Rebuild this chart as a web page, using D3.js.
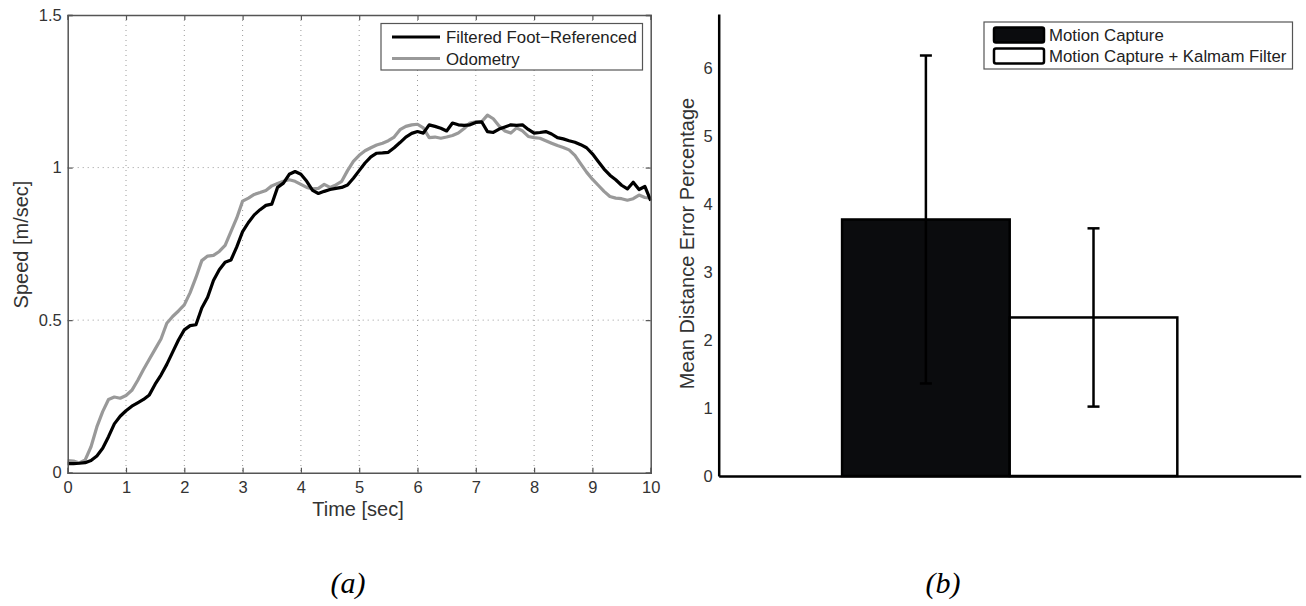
<!DOCTYPE html>
<html>
<head>
<meta charset="utf-8">
<script src="https://cdn.jsdelivr.net/npm/d3@7"></script>
<style>
  html, body { margin: 0; padding: 0; background: #fff; }
  svg text { font-family: "Liberation Sans", Arial, Helvetica, sans-serif; }
</style>
</head>
<body>
<svg id="chart" width="1306" height="606"></svg>
<script>
// ---------- Data: panel (a) ----------
const timeStep = 0.1;
const filteredFootReferenced = [
  0.030,0.030,0.031,0.033,0.040,0.055,0.080,0.118,0.160,0.185,
  0.203,0.218,0.229,0.240,0.255,0.290,0.320,0.355,0.395,0.435,
  0.468,0.482,0.485,0.540,0.575,0.630,0.665,0.690,0.697,0.740,
  0.790,0.820,0.845,0.862,0.876,0.880,0.935,0.949,0.978,0.987,
  0.978,0.955,0.925,0.915,0.922,0.928,0.932,0.935,0.943,0.965,
  0.990,1.015,1.035,1.047,1.048,1.050,1.065,1.082,1.100,1.112,
  1.118,1.113,1.140,1.135,1.129,1.120,1.146,1.140,1.138,1.140,
  1.148,1.150,1.118,1.115,1.126,1.133,1.140,1.138,1.140,1.125,
  1.113,1.115,1.118,1.110,1.098,1.094,1.088,1.083,1.075,1.065,
  1.045,1.020,0.995,0.975,0.960,0.942,0.930,0.952,0.928,0.938,
  0.892
];
const odometry = [
  0.040,0.038,0.032,0.042,0.085,0.150,0.200,0.240,0.248,0.244,
  0.253,0.270,0.302,0.338,0.372,0.405,0.438,0.490,0.512,0.530,
  0.550,0.590,0.640,0.695,0.710,0.712,0.725,0.745,0.790,0.835,
  0.890,0.900,0.912,0.918,0.925,0.940,0.948,0.955,0.960,0.955,
  0.945,0.935,0.930,0.932,0.945,0.935,0.943,0.955,0.990,1.020,
  1.040,1.055,1.065,1.074,1.080,1.088,1.100,1.124,1.135,1.140,
  1.142,1.130,1.098,1.100,1.096,1.100,1.105,1.113,1.128,1.146,
  1.150,1.150,1.172,1.160,1.136,1.120,1.113,1.130,1.120,1.102,
  1.098,1.096,1.088,1.080,1.072,1.066,1.058,1.040,1.012,0.985,
  0.962,0.942,0.922,0.905,0.900,0.898,0.893,0.898,0.910,0.902,
  0.900
];
const seriesNamesA = ["Filtered Foot\u2212Referenced", "Odometry"];
const seriesColorsA = ["#000000", "#999999"];
const xTicksA = [0,1,2,3,4,5,6,7,8,9,10];
const yTicksA = [0, 0.5, 1, 1.5];
const yTickLabelsA = ["0", "0.5", "1", "1.5"];

// ---------- Data: panel (b) ----------
const barCategories = ["Motion Capture", "Motion Capture + Kalmam Filter"];
const barMeans = [3.77, 2.33];
const barErrors = [2.41, 1.31];
const barFills = ["#0b0c0e", "#ffffff"];
const yTicksB = [0,1,2,3,4,5,6];

const svg = d3.select("#chart");

// =============== Panel (a) ===============
(function(){
  const L = 67.7, R = 650.7, T = 15, B = 472.7;
  const x = d3.scaleLinear().domain([0, 10]).range([L, R]);
  const y = d3.scaleLinear().domain([0, 1.5]).range([B, T]);
  const g = svg.append("g");

  // grid
  g.append("g").selectAll("line").data(xTicksA.slice(1, -1)).join("line")
    .attr("x1", d => x(d)).attr("x2", d => x(d)).attr("y1", T).attr("y2", B)
    .attr("stroke", "#9a9a9a").attr("stroke-width", 1).attr("stroke-dasharray", "1,4");
  g.append("g").selectAll("line").data(yTicksA.slice(1, -1)).join("line")
    .attr("x1", L).attr("x2", R).attr("y1", d => y(d)).attr("y2", d => y(d))
    .attr("stroke", "#9a9a9a").attr("stroke-width", 1).attr("stroke-dasharray", "1,4");

  // lines
  const allSeries = [filteredFootReferenced, odometry];
  const line = d3.line().x((d, i) => x(i * timeStep)).y(d => y(d));
  [1, 0].forEach(k => {
    g.append("path").datum(allSeries[k])
      .attr("d", line).attr("fill", "none")
      .attr("stroke", seriesColorsA[k]).attr("stroke-width", 3.2)
      .attr("stroke-linejoin", "round");
  });

  // axes (ticks inward, box)
  const axisColor = "#555";
  const xb = g.append("g").attr("transform", `translate(0,${B})`)
    .call(d3.axisBottom(x).tickValues(xTicksA).tickSize(-5).tickPadding(9).tickFormat(d3.format("d")));
  const xt = g.append("g").attr("transform", `translate(0,${T})`)
    .call(d3.axisTop(x).tickValues(xTicksA).tickSize(-5).tickFormat(""));
  const yl = g.append("g").attr("transform", `translate(${L},0)`)
    .call(d3.axisLeft(y).tickValues(yTicksA).tickSize(-5).tickPadding(6).tickFormat((d, i) => yTickLabelsA[i]));
  const yr = g.append("g").attr("transform", `translate(${R},0)`)
    .call(d3.axisRight(y).tickValues(yTicksA).tickSize(-5).tickFormat(""));
  [xb, xt, yl, yr].forEach(a => {
    a.select(".domain").attr("stroke", axisColor).attr("stroke-width", 1.5);
    a.selectAll(".tick line").attr("stroke", axisColor).attr("stroke-width", 1.2);
    a.selectAll(".tick text").attr("fill", "#333").style("font-size", "16.5px");
  });

  // axis titles
  g.append("text").attr("x", 358).attr("y", 516)
    .attr("text-anchor", "middle").attr("fill", "#333").style("font-size", "20px").text("Time [sec]");
  g.append("text").attr("transform", `translate(28,244.5) rotate(-90)`)
    .attr("text-anchor", "middle").attr("fill", "#333").style("font-size", "20px").text("Speed [m/sec]");

  // legend
  const lx = 381, ly = 23.5, lw = 261.5, lh = 46.5;
  const leg = g.append("g");
  leg.append("rect").attr("x", lx).attr("y", ly).attr("width", lw).attr("height", lh)
    .attr("fill", "#fff").attr("stroke", "#555").attr("stroke-width", 1.2);
  seriesNamesA.forEach((name, i) => {
    const cy = ly + 13.5 + i * 21.5;
    leg.append("line").attr("x1", lx + 11).attr("x2", lx + 59).attr("y1", cy).attr("y2", cy)
      .attr("stroke", seriesColorsA[i]).attr("stroke-width", 3.2);
    leg.append("text").attr("x", lx + 65).attr("y", cy + 6).attr("fill", "#222")
      .style("font-size", "16.8px").text(name);
  });
})();

// =============== Panel (b) ===============
(function(){
  const L = 718.7, R = 1300.7, T = 14, B = 476;
  const x = d3.scaleLinear().domain([0.5, 1.5]).range([L, R]);
  const y = d3.scaleLinear().domain([0, 6.79]).range([B, T]);
  const band = d3.scaleBand().domain(barCategories).range([x(0.712), x(1.288)]);
  const g = svg.append("g");

  // bars
  g.selectAll("rect.bar").data(barCategories).join("rect").attr("class", "bar")
    .attr("x", d => band(d)).attr("width", band.bandwidth())
    .attr("y", (d, i) => y(barMeans[i])).attr("height", (d, i) => B - y(barMeans[i]))
    .attr("fill", (d, i) => barFills[i]).attr("stroke", "#000").attr("stroke-width", 2.5);

  // error bars
  const cap = 6;
  barCategories.forEach((c, i) => {
    const cx = band(c) + band.bandwidth() / 2;
    const hi = y(barMeans[i] + barErrors[i]), lo = y(barMeans[i] - barErrors[i]);
    g.append("line").attr("x1", cx).attr("x2", cx).attr("y1", hi).attr("y2", lo)
      .attr("stroke", "#000").attr("stroke-width", 2.5);
    [hi, lo].forEach(v => g.append("line").attr("x1", cx - cap).attr("x2", cx + cap)
      .attr("y1", v).attr("y2", v).attr("stroke", "#000").attr("stroke-width", 2.5));
  });

  // axes
  const ya = g.append("g").attr("transform", `translate(${L},0)`)
    .call(d3.axisLeft(y).tickValues(yTicksB).tickSize(0).tickPadding(6).tickFormat(d3.format("d")));
  ya.select(".domain").attr("stroke", "#000").attr("stroke-width", 2.5);
  ya.selectAll(".tick text").attr("fill", "#333").style("font-size", "16.5px");
  const xa = g.append("g").attr("transform", `translate(0,${B})`)
    .call(d3.axisBottom(x).tickValues([]).tickSizeOuter(0));
  xa.select(".domain").attr("stroke", "#000").attr("stroke-width", 2.5);

  g.append("text").attr("transform", `translate(694,243.5) rotate(-90)`)
    .attr("text-anchor", "middle").attr("fill", "#333").style("font-size", "20px")
    .text("Mean Distance Error Percentage");

  // legend
  const lx = 984, ly = 22, lw = 308.5, lh = 47;
  const leg = g.append("g");
  leg.append("rect").attr("x", lx).attr("y", ly).attr("width", lw).attr("height", lh)
    .attr("fill", "#fff").attr("stroke", "#555").attr("stroke-width", 1.2);
  barCategories.forEach((name, i) => {
    const ry = ly + 5.5 + i * 21;
    leg.append("rect").attr("x", lx + 10).attr("y", ry).attr("width", 50).attr("height", 15)
      .attr("rx", 2).attr("fill", barFills[i]).attr("stroke", "#000").attr("stroke-width", 2.5);
    leg.append("text").attr("x", lx + 65).attr("y", ry + 13.5).attr("fill", "#222")
      .style("font-size", "16.8px").text(name);
  });
})();

// captions
svg.append("text").attr("x", 348).attr("y", 593).attr("text-anchor", "middle")
  .style("font-family", "'Liberation Serif', 'Times New Roman', serif").style("font-style", "italic")
  .style("font-size", "30px").attr("fill", "#000").text("(a)");
svg.append("text").attr("x", 943).attr("y", 593).attr("text-anchor", "middle")
  .style("font-family", "'Liberation Serif', 'Times New Roman', serif").style("font-style", "italic")
  .style("font-size", "30px").attr("fill", "#000").text("(b)");
</script>
</body>
</html>
